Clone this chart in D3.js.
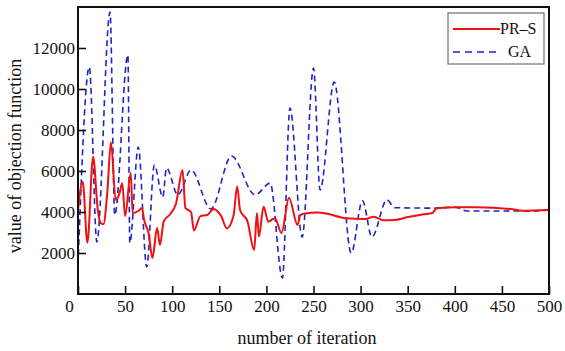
<!DOCTYPE html>
<html>
<head>
<meta charset="utf-8">
<script src="https://cdn.jsdelivr.net/npm/d3@7"></script>
<style>
  body { margin: 0; background: #fff; }
  svg text { font-family: "Times New Roman", "Liberation Serif", Times, serif !important; }
</style>
</head>
<body>
<svg id="chart" width="565" height="351"></svg>
<script>
// iterations and objective values
const prsIter = [0, 5, 10, 16, 21, 24, 27, 31, 35, 40, 44, 47, 50, 56, 58, 64, 68, 70, 75, 79, 84, 87, 91, 98, 104, 111, 114, 120, 123, 130, 137, 144, 152, 158, 165, 169, 172, 180, 187, 190, 192, 197, 202, 209, 216, 224, 233, 236, 241, 254, 266, 284, 305, 314, 324, 336, 349, 367, 376, 381, 402, 423, 459, 472, 500];
const prsVal = [4100, 5480, 2500, 6700, 4100, 3460, 3400, 4900, 7400, 4600, 4900, 5400, 3800, 5900, 3950, 4050, 4200, 3650, 2950, 1760, 3220, 2390, 3550, 3900, 4400, 6050, 4200, 4000, 3100, 3800, 3850, 4150, 3800, 3200, 3800, 5250, 4100, 3530, 2150, 3950, 2800, 4260, 3530, 3700, 2980, 4700, 3370, 3850, 3930, 3980, 3900, 3700, 3660, 3770, 3600, 3610, 3740, 3890, 3950, 4180, 4230, 4230, 4150, 4060, 4100];

const gaIter = [0, 12, 20, 34, 39, 53, 55, 64, 73, 81, 90, 94, 106, 120, 141, 163, 188, 204, 217, 225, 238, 250, 257, 272, 290, 302, 312, 328, 336, 379, 400, 413, 477, 500];
const gaVal = [1400, 11070, 2540, 13750, 3850, 11660, 2490, 7170, 1320, 6290, 4730, 6150, 4830, 6050, 4150, 6730, 4830, 5410, 780, 9070, 2780, 11020, 5070, 10340, 2000, 4550, 2780, 4590, 4210, 4190, 4240, 4050, 4050, 4100];

const xTicks = [0, 50, 100, 150, 200, 250, 300, 350, 400, 450, 500];
const yTicks = [2000, 4000, 6000, 8000, 10000, 12000];

const svg = d3.select('#chart');
const margin = { left: 78, right: 549, top: 7, bottom: 294 };

const x = d3.scaleLinear().domain([0, 500]).range([margin.left, margin.right]);
const y = d3.scaleLinear().domain([0, 14000]).range([margin.bottom, margin.top]);

const line = d3.line()
  .x(d => x(d[0]))
  .y(d => y(d[1]))
  .curve(d3.curveMonotoneX);

const ga = gaIter.map((v, i) => [v, gaVal[i]]);
const prs = prsIter.map((v, i) => [v, prsVal[i]]);

svg.append('path')
  .datum(ga)
  .attr('d', line)
  .attr('fill', 'none')
  .attr('stroke', '#2323c8')
  .attr('stroke-width', 1.6)
  .attr('stroke-dasharray', '6,4');

svg.append('path')
  .datum(prs)
  .attr('d', line)
  .attr('fill', 'none')
  .attr('stroke', '#f01010')
  .attr('stroke-width', 2);

// axes, ticks pointing inward
const xAxis = svg.append('g')
  .attr('transform', `translate(0,${margin.bottom})`)
  .call(d3.axisBottom(x).tickValues(xTicks).tickSizeInner(-8).tickSizeOuter(0).tickPadding(6));

const yAxis = svg.append('g')
  .attr('transform', `translate(${margin.left},0)`)
  .call(d3.axisLeft(y).tickValues(yTicks).tickFormat(d3.format('d')).tickSizeInner(-8).tickSizeOuter(0).tickPadding(3));

[xAxis, yAxis].forEach(g => {
  g.attr('font-family', null).attr('font-size', null);
  g.select('.domain').remove();
  g.selectAll('line').attr('stroke', '#111').attr('stroke-width', 1.6);
  g.selectAll('text')
    .attr('fill', '#111')
    .style('font-size', '17px');
});

// the 0 label sits a bit to the left in the original
xAxis.selectAll('.tick').filter(d => d === 0).select('text').attr('dx', -9);

// frame
svg.append('rect')
  .attr('x', margin.left)
  .attr('y', margin.top)
  .attr('width', margin.right - margin.left)
  .attr('height', margin.bottom - margin.top)
  .attr('fill', 'none')
  .attr('stroke', '#111')
  .attr('stroke-width', 2);

// axis titles
svg.append('text')
  .attr('x', 307)
  .attr('y', 344)
  .attr('text-anchor', 'middle')
  .style('font-size', '18px')
  .attr('fill', '#111')
  .text('number of iteration');

svg.append('text')
  .attr('transform', 'translate(21,156) rotate(-90)')
  .attr('text-anchor', 'middle')
  .style('font-size', '18px')
  .attr('fill', '#111')
  .text('value of objection function');

// legend
const legend = svg.append('g');
legend.append('rect')
  .attr('x', 448).attr('y', 13)
  .attr('width', 96).attr('height', 51)
  .attr('fill', '#fff')
  .attr('stroke', '#555')
  .attr('stroke-width', 1);

legend.append('line')
  .attr('x1', 453).attr('x2', 500).attr('y1', 29).attr('y2', 29)
  .attr('stroke', '#f01010').attr('stroke-width', 2);
legend.append('text')
  .attr('x', 500).attr('y', 34)
  .style('font-size', '16px').attr('fill', '#111')
  .text('PR–S');

legend.append('line')
  .attr('x1', 453).attr('x2', 499).attr('y1', 52).attr('y2', 52)
  .attr('stroke', '#2323c8').attr('stroke-width', 1.6)
  .attr('stroke-dasharray', '7,5');
legend.append('text')
  .attr('x', 508).attr('y', 57)
  .style('font-size', '16px').attr('fill', '#111')
  .text('GA');
</script>
</body>
</html>
